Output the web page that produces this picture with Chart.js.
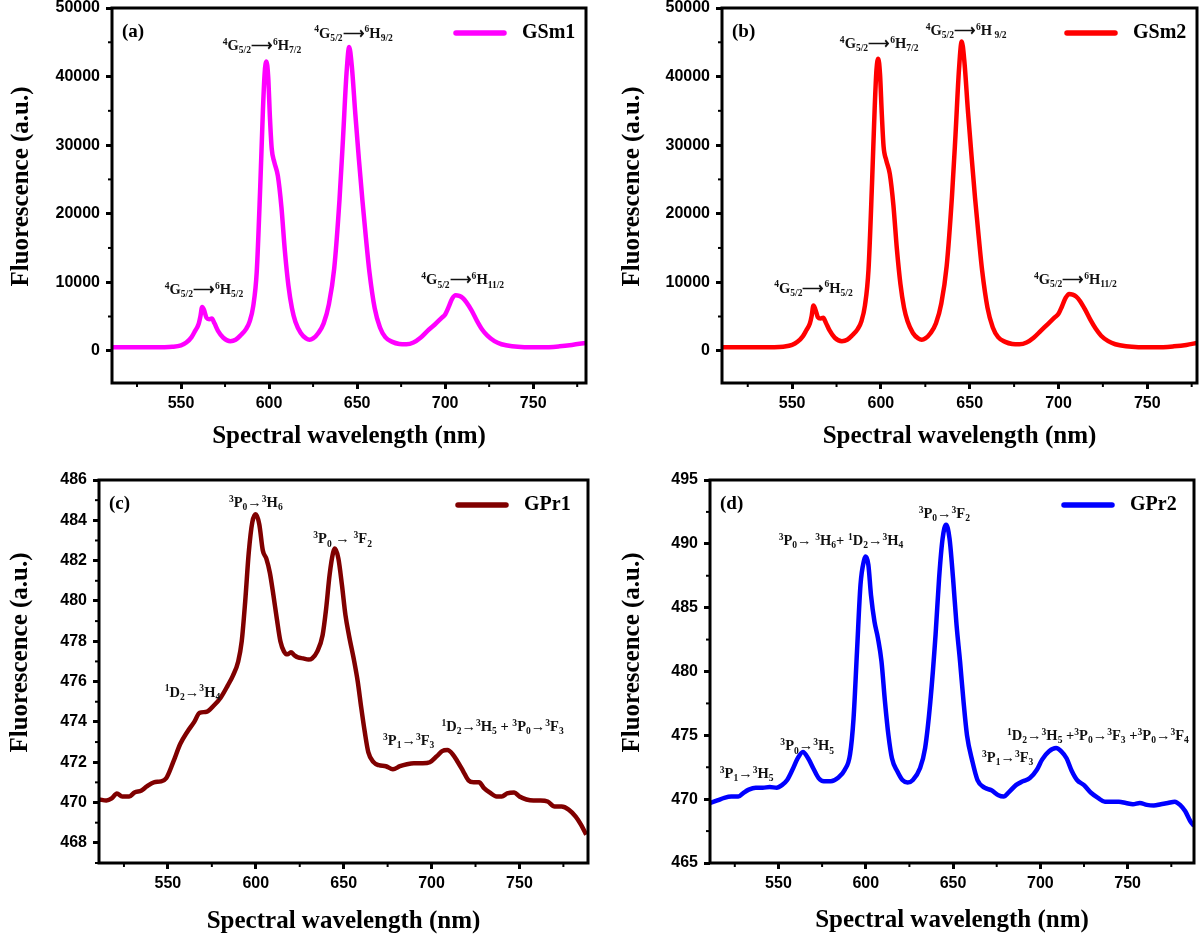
<!DOCTYPE html>
<html>
<head>
<meta charset="utf-8">
<script src="https://cdn.jsdelivr.net/npm/chart.js@4.4.1/dist/chart.umd.min.js"></script>
<style>
  body { margin: 0; background: #fff; }
  .panel { position: absolute; }
</style>
</head>
<body>
<div class="panel" style="left:0;top:0"><canvas id="chartA" width="600" height="470"></canvas></div>
<div class="panel" style="left:600px;top:0"><canvas id="chartB" width="600" height="470"></canvas></div>
<div class="panel" style="left:0;top:470px"><canvas id="chartC" width="600" height="472"></canvas></div>
<div class="panel" style="left:600px;top:470px"><canvas id="chartD" width="600" height="472"></canvas></div>
<script>
// Sm3+ doped glass (GSm1)
const gsm1Wl = [511, 520, 530, 540, 545, 550, 553, 556, 558, 560, 561, 562, 563, 564.5, 566, 567.5, 569, 571, 574, 578,
  581, 584, 587, 589, 591, 593, 595, 596.5, 597.5, 598.5, 599.5, 600.5, 601.5, 603, 605, 607, 609, 611, 613, 615,
  618, 621, 623, 625, 628, 631, 634, 637, 640, 642, 644, 645.5, 647, 649, 651, 653, 655, 657, 660, 663,
  666, 670, 674, 678, 682, 686, 690, 694, 698, 700, 702, 704, 706, 708, 710, 712, 715, 718, 721, 724,
  728, 732, 738, 745, 755, 765, 772, 780];
const gsm1Val = [500, 500, 500, 520, 580, 800, 1200, 2000, 2900, 3900, 5000, 6400, 6000, 4800, 4600, 4700, 4000, 2900, 1900, 1400,
  1600, 2300, 3200, 4300, 6500, 11500, 24000, 35000, 40500, 42200, 40000, 34000, 29500, 27500, 25500, 21000, 14500, 9500, 6200, 4200,
  2600, 1800, 1600, 1800, 2600, 4000, 6800, 12000, 22000, 31000, 40500, 44300, 41500, 34500, 28000, 22000, 16500, 11500, 6200, 3400,
  2000, 1300, 1000, 950, 1200, 1900, 2900, 3800, 4800, 5300, 6400, 7600, 8100, 8000, 7700, 7100, 5900, 4400, 3100, 2200,
  1400, 950, 650, 520, 500, 650, 850, 1150];

// Sm3+ doped glass (GSm2)
const gsm2Wl = [511, 520, 530, 540, 545, 550, 553, 556, 558, 560, 561, 562, 563, 564.5, 566, 567.5, 569, 571, 574, 578,
  581, 584, 587, 589, 591, 593, 595, 596.5, 597.5, 598.5, 599.5, 600.5, 601.5, 603, 605, 607, 609, 611, 613, 615,
  618, 621, 623, 625, 628, 631, 634, 637, 640, 642, 644, 645.5, 647, 649, 651, 653, 655, 657, 660, 663,
  666, 670, 674, 678, 682, 686, 690, 694, 698, 700, 702, 704, 706, 708, 710, 712, 715, 718, 721, 724,
  728, 732, 738, 745, 755, 765, 772, 778];
const gsm2Val = [500, 500, 500, 520, 600, 850, 1300, 2100, 3000, 4000, 5100, 6600, 6100, 4900, 4700, 4800, 4100, 3000, 1900, 1400,
  1600, 2300, 3200, 4300, 6600, 11800, 24500, 35500, 41000, 42600, 40300, 34500, 29800, 27800, 25800, 21300, 14800, 9700, 6300, 4300,
  2600, 1800, 1600, 1800, 2600, 4000, 6900, 12300, 22500, 31500, 41200, 45100, 42200, 35000, 28500, 22300, 16800, 11700, 6300, 3400,
  2000, 1300, 1000, 950, 1200, 1900, 2900, 3900, 4900, 5400, 6500, 7700, 8300, 8200, 7900, 7300, 6000, 4500, 3200, 2200,
  1400, 950, 650, 520, 500, 650, 850, 1150];

// Pr3+ doped glass (GPr1)
const gpr1Wl = [511, 515, 518, 521, 524, 528, 531, 535, 538, 542, 546, 549, 553, 557, 561, 565, 568, 572, 576, 580,
  584, 587, 590, 592, 594, 596, 598, 600, 602, 604, 606, 608, 610, 612, 614, 616, 618, 620, 622, 624,
  627, 630, 632, 635, 638, 640, 642, 644, 645, 647, 649, 651, 653, 656, 658, 660, 662, 664, 667, 670,
  674, 678, 682, 686, 690, 695, 699, 703, 706, 709, 712, 715, 718, 721, 724, 727, 730, 733, 737, 740,
  743, 747, 750, 754, 758, 762, 766, 770, 774, 778, 782, 785, 788];
const gpr1Val = [470.15, 470.1, 470.2, 470.45, 470.3, 470.3, 470.5, 470.6, 470.8, 471.0, 471.05, 471.2, 472.0, 472.9, 473.5, 474.0, 474.45, 474.5, 474.8, 475.2,
  475.8, 476.3, 477.0, 478.0, 480.0, 482.4, 483.9, 484.3, 483.8, 482.5, 482.1, 481.4, 480.3, 479.1, 478.0, 477.5, 477.35, 477.45, 477.3, 477.2,
  477.15, 477.1, 477.15, 477.5, 478.3, 479.6, 481.3, 482.4, 482.6, 482.1, 480.8, 479.3, 478.3, 477.0, 476.0, 474.7, 473.5, 472.5, 472.0, 471.85,
  471.8, 471.65, 471.8, 471.9, 471.95, 471.95, 472.0, 472.3, 472.55, 472.6, 472.4, 472.0, 471.55, 471.1, 471.0, 471.0, 470.7, 470.5, 470.3, 470.3,
  470.45, 470.5, 470.3, 470.15, 470.1, 470.1, 470.05, 469.8, 469.8, 469.65, 469.3, 468.9, 468.4];

// Pr3+ doped glass (GPr2)
const gpr2Wl = [511, 515, 519, 523, 527, 530, 533, 537, 541, 545, 549, 552, 555, 558, 561, 564, 567, 570, 573, 576,
  580, 584, 588, 591, 593, 595, 597, 599, 600, 601.5, 603, 605, 607, 609, 611, 613, 615, 618, 621, 624,
  627, 631, 634, 637, 640, 642, 644, 646, 648, 650, 652, 654, 656, 658, 661, 664, 668, 672, 676, 679,
  682, 686, 690, 694, 698, 701, 705, 709, 712, 715, 718, 721, 725, 729, 733, 737, 741, 745, 749, 753,
  757, 761, 765, 769, 773, 777, 780, 783, 786, 788];
const gpr2Val = [469.7, 469.9, 470.1, 470.2, 470.2, 470.5, 470.75, 470.9, 470.9, 470.95, 470.9, 471.1, 471.5, 472.3, 473.2, 473.7, 473.2, 472.4, 471.65, 471.4,
  471.4, 471.65, 472.3, 473.5, 476.3, 481.6, 486.8, 488.7, 489.0, 488.35, 486.0, 483.9, 482.6, 480.8, 477.65, 475.0, 473.2, 472.2, 471.5, 471.3,
  471.5, 472.4, 474.0, 477.65, 482.9, 487.3, 490.4, 491.5, 490.4, 487.3, 483.65, 480.8, 477.65, 475.0, 473.0, 471.5, 470.9, 470.7, 470.3, 470.2,
  470.55, 471.1, 471.4, 471.65, 472.3, 473.1, 473.75, 474.0, 473.75, 473.2, 472.2, 471.5, 471.1, 470.5, 470.1, 469.8, 469.8, 469.8, 469.7, 469.6,
  469.7, 469.55, 469.5, 469.6, 469.7, 469.8, 469.55, 469.05, 468.25, 467.9];

// axis tick labels
const wlTicks = [550, 600, 650, 700, 750];
const smTicks = [0, 10000, 20000, 30000, 40000, 50000];
const pr1Ticks = [468, 470, 472, 474, 476, 478, 480, 482, 484, 486];
const pr2Ticks = [465, 470, 475, 480, 485, 490, 495];

// transition labels, placed at (wavelength, intensity)
const notesA = [
  { text: '^4G_{5/2}⟶^6H_{5/2}', x: 563, y: 9000 },
  { text: '^4G_{5/2}⟶^6H_{7/2}', x: 596, y: 44600 },
  { text: '^4G_{5/2}⟶^6H_{9/2}', x: 648, y: 46400 },
  { text: '^4G_{5/2}⟶^6H_{11/2}', x: 710, y: 10400 },
];
const notesB = [
  { text: '^4G_{5/2}⟶^6H_{5/2}', x: 562, y: 9200 },
  { text: '^4G_{5/2}⟶^6H_{7/2}', x: 599, y: 44900 },
  { text: '^4G_{5/2}⟶^6H_{ 9/2}', x: 648, y: 46800 },
  { text: '^4G_{5/2}⟶^6H_{11/2}', x: 709.5, y: 10500 },
];
const notesC = [
  { text: '^3P_0→^3H_6', x: 600, y: 484.9 },
  { text: '^3P_0 → ^3F_2', x: 649.4, y: 483.1 },
  { text: '^1D_2→^3H_4', x: 564, y: 475.5 },
  { text: '^3P_1→^3F_3', x: 687, y: 473.1 },
  { text: '^1D_2→^3H_5 + ^3P_0→^3F_3', x: 740.4, y: 473.8 },
];
const notesD = [
  { text: '^3P_0→^3F_2', x: 645, y: 492.4 },
  { text: '^3P_0→ ^3H_6+ ^1D_2→^3H_4', x: 585.8, y: 490.3 },
  { text: '^3P_0→^3H_5', x: 566.5, y: 474.2 },
  { text: '^3P_1→^3H_5', x: 531.8, y: 472.05 },
  { text: '^3P_1→^3F_3', x: 681.3, y: 473.3 },
  { text: '^1D_2→^3H_5 +^3P_0→^3F_3 +^3P_0→^3F_4', x: 733, y: 475.0 },
];

const serif = '"Liberation Serif", "Times New Roman", serif';
const sans = '"Liberation Sans", Arial, sans-serif';

// draws text with ^sup and _sub pieces, centred on (cx, cy)
function drawRich(ctx, text, cx, cy, size) {
  const re = /\^\{([^}]*)\}|\^(.)|_\{([^}]*)\}|_(.)|([^^_]+)/g;
  const parts = [];
  let m;
  while ((m = re.exec(text))) {
    if (m[1] !== undefined || m[2] !== undefined) parts.push({ t: m[1] ?? m[2], dy: -0.36 * size, s: 0.66 * size });
    else if (m[3] !== undefined || m[4] !== undefined) parts.push({ t: m[3] ?? m[4], dy: 0.22 * size, s: 0.66 * size });
    else parts.push({ t: m[5], dy: 0, s: size });
  }
  let total = 0;
  parts.forEach(p => {
    ctx.font = `bold ${p.s}px ${serif}`;
    p.w = ctx.measureText(p.t).width;
    total += p.w;
  });
  let x = cx - total / 2;
  const base = cy + size * 0.34;
  ctx.textAlign = 'left';
  ctx.textBaseline = 'alphabetic';
  parts.forEach(p => {
    ctx.font = `bold ${p.s}px ${serif}`;
    ctx.fillText(p.t, x, base + p.dy);
    x += p.w;
  });
}

function drawMinor(ctx, scale, step, horizontal, area) {
  const first = Math.ceil(scale.min / step) * step;
  ctx.lineWidth = 2;
  for (let v = first; v <= scale.max + 1e-9; v += step) {
    const k = v / (2 * step);
    if (Math.abs(k - Math.round(k)) < 1e-6) continue;
    const p = scale.getPixelForValue(v);
    ctx.beginPath();
    if (horizontal) { ctx.moveTo(p, area.bottom); ctx.lineTo(p, area.bottom + 4); }
    else { ctx.moveTo(area.left, p); ctx.lineTo(area.left - 4, p); }
    ctx.stroke();
  }
}

const panelDecor = {
  id: 'panelDecor',
  afterDatasetsDraw(chart, args, opts) {
    const { ctx, chartArea: a, scales: { x, y } } = chart;
    ctx.save();
    ctx.strokeStyle = '#000';
    ctx.fillStyle = '#000';
    ctx.lineWidth = 3;
    ctx.strokeRect(a.left, a.top, a.right - a.left, a.bottom - a.top);
    drawMinor(ctx, x, opts.xStep / 2, true, a);
    drawMinor(ctx, y, opts.yStep / 2, false, a);

    ctx.fillStyle = '#111';
    opts.notes.forEach(n => drawRich(ctx, n.text, x.getPixelForValue(n.x), y.getPixelForValue(n.y), 14.5));

    ctx.fillStyle = '#000';
    ctx.font = `bold 19px ${serif}`;
    ctx.textAlign = 'left';
    ctx.textBaseline = 'middle';
    ctx.fillText(opts.tag, a.left + 10, a.top + 24);

    const ds = chart.data.datasets[0];
    const ly = a.top + 25;
    ctx.strokeStyle = ds.borderColor;
    ctx.lineWidth = 5.5;
    ctx.lineCap = 'round';
    ctx.beginPath();
    ctx.moveTo(a.right - 130, ly);
    ctx.lineTo(a.right - 82, ly);
    ctx.stroke();
    ctx.font = `bold 20px ${serif}`;
    ctx.fillText(ds.label, a.right - 64, ly);

    ctx.translate(opts.titleX, (a.top + a.bottom) / 2 + opts.titleShift);
    ctx.rotate(-Math.PI / 2);
    ctx.font = `bold 25px ${serif}`;
    ctx.textAlign = 'center';
    ctx.fillText('Fluorescence (a.u.)', 0, 0);
    ctx.restore();
  }
};

function makePanel(id, p) {
  new Chart(document.getElementById(id), {
    type: 'line',
    data: {
      datasets: [{
        label: p.label,
        data: p.wl.map((w, i) => ({ x: w, y: p.val[i] })),
        borderColor: p.color,
        borderWidth: 4.5,
        pointRadius: 0,
        cubicInterpolationMode: 'monotone',
        fill: false,
      }],
    },
    options: {
      responsive: false,
      animation: false,
      devicePixelRatio: 1,
      layout: { padding: { top: p.top, right: p.right, left: 0, bottom: 0 } },
      plugins: {
        legend: { display: false },
        tooltip: { enabled: false },
        panelDecor: { notes: p.notes, tag: p.tag, xStep: 50, yStep: p.yStep, titleX: p.titleX, titleShift: p.titleShift },
      },
      scales: {
        x: {
          type: 'linear',
          min: p.xMin,
          max: p.xMax,
          border: { display: false },
          grid: { drawOnChartArea: false, tickLength: 6, tickWidth: 3, tickColor: '#000' },
          ticks: { padding: 5, color: '#000', callback: v => String(v), font: { family: sans, size: 16, weight: 'bold' } },
          afterBuildTicks: s => { s.ticks = wlTicks.map(v => ({ value: v })); },
          title: { display: true, text: 'Spectral wavelength (nm)', color: '#000', padding: { bottom: p.xTitlePad, top: 0 }, font: { family: serif, size: 25, weight: 'bold' } },
          afterFit: s => { s.height = p.xHeight; s.paddingLeft = 0; s.paddingRight = 0; },
        },
        y: {
          min: p.yMin,
          max: p.yMax,
          border: { display: false },
          grid: { drawOnChartArea: false, tickLength: 6, tickWidth: 3, tickColor: '#000' },
          ticks: { padding: 6, color: '#000', callback: v => String(v), font: { family: sans, size: 16, weight: 'bold' } },
          afterBuildTicks: s => { s.ticks = p.yTicks.map(v => ({ value: v })); },
          afterFit: s => { s.width = p.yWidth; s.paddingTop = 0; s.paddingBottom = 0; },
        },
      },
    },
    plugins: [panelDecor],
  });
}

makePanel('chartA', {
  label: 'GSm1', tag: '(a)', color: '#ff00ff', wl: gsm1Wl, val: gsm1Val, notes: notesA,
  xMin: 510.8, xMax: 780, yMin: -4700, yMax: 50000, yStep: 10000, yTicks: smTicks,
  top: 8, right: 14, yWidth: 112, xHeight: 87, xTitlePad: 18, titleX: 22, titleShift: -9,
});
makePanel('chartB', {
  label: 'GSm2', tag: '(b)', color: '#ff0000', wl: gsm2Wl, val: gsm2Val, notes: notesB,
  xMin: 510.5, xMax: 778, yMin: -4700, yMax: 50000, yStep: 10000, yTicks: smTicks,
  top: 8, right: 3, yWidth: 122, xHeight: 87, xTitlePad: 18, titleX: 33, titleShift: -9,
});
makePanel('chartC', {
  label: 'GPr1', tag: '(c)', color: '#800000', wl: gpr1Wl, val: gpr1Val, notes: notesC,
  xMin: 510.8, xMax: 789, yMin: 467, yMax: 486, yStep: 2, yTicks: pr1Ticks,
  top: 10, right: 12, yWidth: 99, xHeight: 79, xTitlePad: 5, titleX: 21, titleShift: -19,
});
makePanel('chartD', {
  label: 'GPr2', tag: '(d)', color: '#0000ff', wl: gpr2Wl, val: gpr2Val, notes: notesD,
  xMin: 510.8, xMax: 788, yMin: 465, yMax: 495, yStep: 5, yTicks: pr2Ticks,
  top: 10, right: 6, yWidth: 110, xHeight: 79, xTitlePad: 6, titleX: 33, titleShift: -19,
});
</script>
</body>
</html>
